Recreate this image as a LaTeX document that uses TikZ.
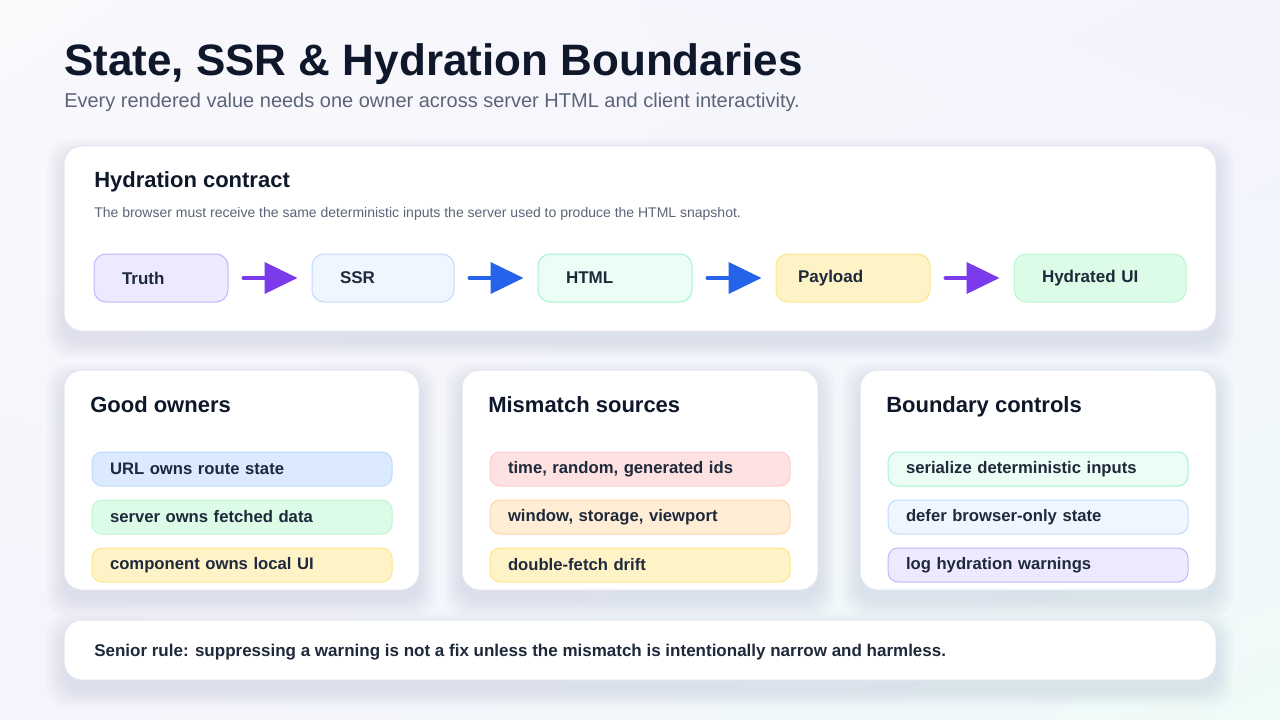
\documentclass[tikz,border=0pt]{standalone}
\usepackage{fontspec}
\setmainfont{Liberation Sans}
\usetikzlibrary{arrows.meta,shadings}
\definecolor{ink}{RGB}{15,23,42}
\definecolor{slate}{RGB}{91,100,120}
\definecolor{itemink}{RGB}{30,41,59}
\definecolor{cardline}{RGB}{226,230,240}
\definecolor{shadowtint}{RGB}{70,80,140}
\definecolor{flowpurple}{RGB}{124,58,237}
\definecolor{flowblue}{RGB}{37,99,235}
\definecolor{lilacfill}{RGB}{237,233,254}
\definecolor{lilacline}{RGB}{196,181,253}
\definecolor{skyfill}{RGB}{239,246,255}
\definecolor{skyline}{RGB}{191,219,254}
\definecolor{bluefill}{RGB}{219,234,254}
\definecolor{mintfill}{RGB}{236,253,245}
\definecolor{mintline}{RGB}{167,243,208}
\definecolor{greenfill}{RGB}{220,252,231}
\definecolor{greenline}{RGB}{187,247,208}
\definecolor{sandfill}{RGB}{254,243,199}
\definecolor{sandline}{RGB}{253,230,138}
\definecolor{rosefill}{RGB}{254,226,226}
\definecolor{roseline}{RGB}{254,202,202}
\definecolor{peachfill}{RGB}{255,237,213}
\definecolor{peachline}{RGB}{254,215,170}
\definecolor{bgnw}{RGB}{249,249,252}
\definecolor{bgne}{RGB}{244,242,253}
\definecolor{bgsw}{RGB}{245,243,252}
\definecolor{bgse}{RGB}{238,251,248}

\begin{document}
\begin{tikzpicture}[x=0.75pt,y=0.75pt,yscale=-1,xscale=1,
  card/.style={fill=white, draw=cardline, line width=0.75pt, rounded corners=13.5pt},
  cardshadow/.style={fill=shadowtint, fill opacity=0.018, rounded corners=16pt},
  stage/.style={rounded corners=9pt, line width=0.75pt, minimum height=36pt, inner xsep=21pt, align=left, text=itemink,
    font=\bfseries\fontsize{12.75}{15}\selectfont},
  pill/.style={rounded corners=7.5pt, line width=0.75pt, minimum height=25.5pt, inner xsep=13.5pt, text width=198pt, align=left, text=itemink,
    font=\bfseries\fontsize{12.5}{15}\selectfont},
  cardtitle/.style={anchor=base west, inner sep=0pt, text=ink, font=\bfseries\fontsize{16.5}{20}\selectfont},
  flow/.style={-{Triangle[length=24.75pt,width=23.25pt]}, line width=3pt, line cap=round, shorten <=11.25pt, shorten >=10.5pt}
]
\useasboundingbox (0,0) rectangle (1280,720);
%Background
\shade[upper left=bgnw, upper right=bgne, lower left=bgsw, lower right=bgse] (0,0) rectangle (1280,720);

%Text: title
\node[anchor=base west, inner sep=0pt, text=ink, font=\bfseries\fontsize{33}{40}\selectfont] (title) at (64,76) {State, SSR \& Hydration Boundaries};
%Text: subtitle
\node[anchor=base west, inner sep=0pt, text=slate, font=\fontsize{15}{18}\selectfont] (subtitle) at (64,107.5) {Every rendered value needs one owner across server HTML and client interactivity.};

%Shadows under the cards
\foreach \s in {2,5,8,11,14,17}{
  \fill[cardshadow] (64-\s,146-\s+10) rectangle (1216+\s,331+\s+10);
  \fill[cardshadow] (64-\s,370-\s+10) rectangle (419+\s,590+\s+10);
  \fill[cardshadow] (462-\s,370-\s+10) rectangle (818+\s,590+\s+10);
  \fill[cardshadow] (860-\s,370-\s+10) rectangle (1216+\s,590+\s+10);
  \fill[cardshadow] (64-\s,620-\s+10) rectangle (1216+\s,680+\s+10);
}

%Shape: Rounded Rect -- contract card
\draw[card] (64,146) rectangle (1216,331);
\node[cardtitle] (contract) at (94,188) {Hydration contract};
\node[anchor=base west, inner sep=0pt, text=slate, font=\fontsize{10.5}{12}\selectfont] (contractnote) at (94,217.5) {The browser must receive the same deterministic inputs the server used to produce the HTML snapshot.};

%Pipeline
\node[stage, fill=lilacfill, draw=lilacline, text width=58.5pt] (truth) at (161,278) {Truth};
\node[stage, fill=skyfill, draw=skyline, text width=64.5pt] (ssr) at (383,278) {SSR};
\node[stage, fill=mintfill, draw=mintline, text width=73.5pt] (html) at (615,278) {HTML};
\node[stage, fill=sandfill, draw=sandline, inner xsep=16.5pt, text width=82.5pt] (payload) at (853,278) {Payload};
\node[stage, fill=greenfill, draw=greenline, text width=87pt] (hydrated) at (1100,278) {Hydrated UI};
%Straight Lines -- arrows
\draw[flow, flowpurple] (truth) -- (ssr);
\draw[flow, flowblue] (ssr) -- (html);
\draw[flow, flowblue] (html) -- (payload);
\draw[flow, flowpurple] (payload) -- (hydrated);

%Shape: Rounded Rect -- good owners
\draw[card] (64,370) rectangle (419,590);
\node[cardtitle] (owners) at (90,412) {Good owners};
\node[pill, fill=bluefill, draw=skyline] (url) at (242,469) {URL owns route state};
\node[pill, fill=greenfill, draw=greenline] (server) at (242,517) {server owns fetched data};
\node[pill, fill=sandfill, draw=sandline] (component) at (242,565) {component owns local UI};

%Shape: Rounded Rect -- mismatch sources
\draw[card] (462,370) rectangle (818,590);
\node[cardtitle] (mismatch) at (488,412) {Mismatch sources};
\node[pill, fill=rosefill, draw=roseline] (timeids) at (640,469) {time, random, generated ids};
\node[pill, fill=peachfill, draw=peachline] (window) at (640,517) {window, storage, viewport};
\node[pill, fill=sandfill, draw=sandline] (refetch) at (640,565) {double-fetch drift};

%Shape: Rounded Rect -- boundary controls
\draw[card] (860,370) rectangle (1216,590);
\node[cardtitle] (controls) at (886,412) {Boundary controls};
\node[pill, fill=mintfill, draw=mintline] (serialize) at (1038,469) {serialize deterministic inputs};
\node[pill, fill=skyfill, draw=skyline] (defer) at (1038,517) {defer browser-only state};
\node[pill, fill=lilacfill, draw=lilacline] (logwarn) at (1038,565) {log hydration warnings};

%Shape: Rounded Rect -- rule
\draw[card] (64,620) rectangle (1216,680);
\node[anchor=base west, inner sep=0pt, text=itemink, font=\bfseries\fontsize{12.75}{15}\selectfont] (rule) at (94,656.5) {Senior rule: suppressing a warning is not a fix unless the mismatch is intentionally narrow and harmless.};
\end{tikzpicture}
\end{document}
